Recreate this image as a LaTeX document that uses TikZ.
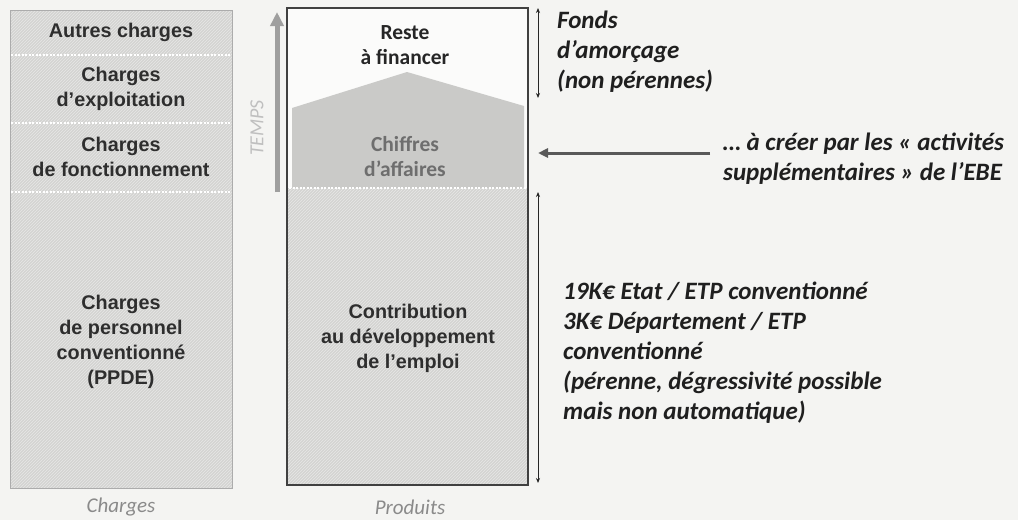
\documentclass[tikz,border=0pt]{standalone}
\usepackage{fontspec}
\setmainfont{Carlito}
\newfontfamily\arialfont{Liberation Sans}
\usetikzlibrary{arrows.meta,patterns}

\definecolor{paper}{HTML}{F4F4F2}
\definecolor{hatchbase}{HTML}{D4D4D2}
\definecolor{solidgray}{HTML}{CACAC8}
\definecolor{inkdark}{HTML}{2E2E2E}
\definecolor{inkgray}{HTML}{6E6E6E}
\definecolor{capgray}{HTML}{8A8A8A}

\tikzset{
  x=1pt, y=-1pt,
  hatched/.style={fill=hatchbase},
  hatchlines/.style={pattern=north east lines, pattern color=white, opacity=0.45},
  arialtxt/.style={font=\arialfont\bfseries\fontsize{19.8}{25}\selectfont, text=inkdark, align=center, inner sep=0pt},
  caltxt/.style={font=\bfseries\fontsize{21.5}{25}\selectfont, align=center, inner sep=0pt},
  notetxt/.style={font=\bfseries\itshape\fontsize{25}{30}\selectfont, text=black!88, align=left, inner sep=0pt, anchor=west},
  captxt/.style={font=\itshape\fontsize{21}{22}\selectfont, text=capgray, inner sep=0pt},
  divider/.style={white, line width=1.6pt, dash pattern=on 2pt off 1.5pt},
  span/.style={{Stealth[length=5pt,width=4pt]}-{Stealth[length=5pt,width=4pt]}, line width=0.8pt, black!85},
  timearrow/.style={-{Triangle[length=14pt,width=13pt]}, line width=5pt, gray!75},
  pointarrow/.style={-{Triangle[length=10pt,width=9pt]}, line width=3pt, gray!70!black},
}

\begin{document}
\begin{tikzpicture}
  % page
  \fill[paper] (0,0) rectangle (1018,520);
  \useasboundingbox (0,0) rectangle (1018,520);

  % ---- Charges column ----
  \fill[hatched] (10,10) rectangle (232,488);
  \fill[hatchlines] (10,10) rectangle (232,488);
  \draw[gray!65, line width=1pt] (10,10) rectangle (232,488);
  \draw[divider] (11,55) -- (231,55);
  \draw[divider] (11,123) -- (231,123);
  \draw[divider] (11,192) -- (231,192);

  \node[arialtxt] (autres) at (121,32) {Autres charges};
  \node[arialtxt] (exploit) at (121,89) {Charges\\d’exploitation};
  \node[arialtxt] (fonct) at (121,157) {Charges\\de fonctionnement};
  \node[arialtxt] (perso) at (121,342) {Charges\\de personnel\\conventionné\\(PPDE)};
  \node[captxt] (charges) at (121,507) {Charges};

  % ---- time arrow ----
  \coordinate (tlow) at (277,192);
  \coordinate (thigh) at (277,12);
  \draw[timearrow] (tlow) -- (thigh);
  \node[font=\itshape\fontsize{20}{22}\selectfont, text=gray!50, rotate=90, inner sep=0pt] (temps) at (257,128) {TEMPS};

  % ---- Produits column ----
  \fill[white!60!paper] (287,8) rectangle (528,485);
  \fill[hatched] (288,188) rectangle (527,485);
  \fill[hatchlines] (288,188) rectangle (527,485);
  \fill[solidgray] (292,188) -- (292,108) -- (407,72) -- (524,106) -- (524,188) -- cycle;
  \draw[divider, line width=1.2pt] (289,188) -- (526,188);
  \draw[black!75, line width=1.8pt] (287,8) rectangle (528,485);

  \node[caltxt, text=black!85] (reste) at (405,45) {Reste\\à financer};
  \node[caltxt, text=inkgray] (ca) at (405,157) {Chiffres\\d’affaires};
  \node[arialtxt] (contrib) at (408,338) {Contribution\\au développement\\de l’emploi};
  \node[captxt] (produits) at (410,507) {Produits};

  % ---- spans on the right ----
  \coordinate (fa) at (538,8);
  \coordinate (fb) at (538,98);
  \coordinate (ca1) at (538,192);
  \coordinate (ca2) at (538,483);
  \draw[span] (fa) -- (fb);
  \draw[span] (ca1) -- (ca2);

  \node[notetxt] (fonds) at (557,52) {Fonds\\d’amorçage\\(non pérennes)};

  \node[notetxt, anchor=west] (creer) at (723,159) {… à créer par les « activités\\supplémentaires » de l’EBE};
  \coordinate (pa) at (710,153);
  \coordinate (pb) at (538,153);
  \draw[pointarrow] (pa) -- (pb);

  \node[notetxt] (cde) at (563,353) {19K€ Etat / ETP conventionné\\3K€ Département / ETP\\conventionné\\(pérenne, dégressivité possible\\mais non automatique)};
\end{tikzpicture}
\end{document}
